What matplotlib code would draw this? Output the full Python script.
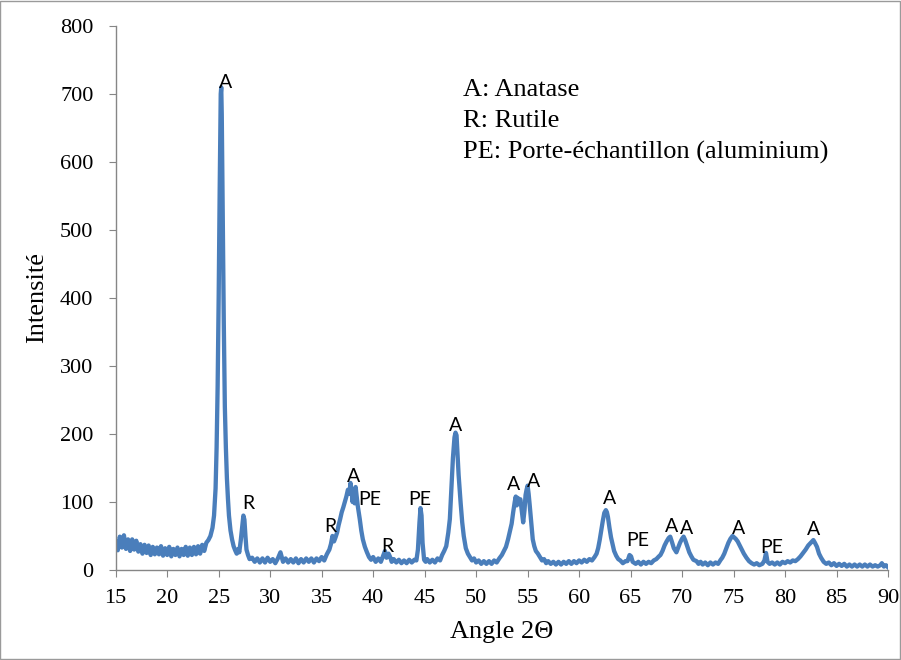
import matplotlib
matplotlib.use("Agg")
import matplotlib.pyplot as plt
from matplotlib.patches import Rectangle

# XRD scan (angle 2-theta, intensity)
angle_bg1 = [15.0, 15.2, 15.4, 15.6, 15.8, 16.0, 16.2, 16.4, 16.6, 16.8,
             17.0, 17.2, 17.4, 17.6, 17.8, 18.0, 18.2, 18.4, 18.6, 18.8,
             19.0, 19.2, 19.4, 19.6, 19.8, 20.0, 20.2, 20.4, 20.6, 20.8,
             21.0, 21.2, 21.4, 21.6, 21.8, 22.0, 22.2, 22.4, 22.6, 22.8,
             23.0, 23.2, 23.4, 23.6, 23.8]
inten_bg1 = [42, 29, 49, 33, 51, 31, 45, 28, 45, 30,
             43, 27, 38, 24, 37, 25, 36, 22, 34, 23,
             33, 23, 35, 21, 32, 22, 34, 20, 31, 22,
             33, 20, 31, 22, 34, 21, 33, 22, 34, 23,
             35, 24, 37, 28, 40]

angle_pk25 = [24.0, 24.2, 24.4, 24.55, 24.7, 24.8, 24.9, 25.0, 25.1, 25.2,
              25.25, 25.3, 25.4, 25.5, 25.6, 25.7, 25.8, 25.9, 26.0, 26.15,
              26.3, 26.45, 26.6, 26.75, 26.9, 27.0, 27.15, 27.3, 27.4, 27.5,
              27.6, 27.7, 27.85, 28.0]
inten_pk25 = [44, 50, 62, 80, 120, 180, 270, 400, 560, 700,
              710, 670, 520, 360, 240, 180, 135, 105, 80, 58,
              45, 35, 29, 24, 31, 26, 44, 66, 80, 74,
              50, 30, 22, 16]

angle_bg2 = [28.25, 28.5, 28.75, 29.0, 29.25, 29.5, 29.75, 30.0, 30.25, 30.5,
             30.75, 31.0, 31.25, 31.5, 31.75, 32.0, 32.25, 32.5, 32.75, 33.0,
             33.25, 33.5, 33.75, 34.0, 34.25, 34.5, 34.75, 35.0, 35.25, 35.5,
             35.75]
inten_bg2 = [18, 12, 17, 11, 17, 11, 18, 12, 16, 10,
             17, 26, 12, 17, 11, 16, 11, 17, 10, 16,
             11, 17, 12, 17, 11, 17, 13, 19, 14, 23,
             30]

angle_pk38 = [35.9, 36.05, 36.2, 36.35, 36.5, 36.65, 36.8, 36.95, 37.1, 37.25,
              37.4, 37.55, 37.7, 37.8, 37.9, 38.0, 38.1, 38.2, 38.3, 38.4,
              38.5, 38.6, 38.7, 38.85, 39.0, 39.2, 39.4, 39.6, 39.8, 40.0,
              40.25, 40.5, 40.75, 41.0, 41.15, 41.3, 41.5, 41.65, 41.8, 42.0,
              42.25, 42.5, 42.75, 43.0, 43.25, 43.5, 43.75, 44.0, 44.2, 44.35,
              44.5, 44.6, 44.7, 44.8, 44.95, 45.1, 45.25, 45.5, 45.75, 46.0,
              46.25, 46.5]
inten_pk38 = [38, 50, 42, 48, 55, 66, 75, 85, 92, 100,
              108, 118, 112, 128, 118, 100, 112, 98, 122, 108,
              95, 85, 75, 58, 45, 34, 26, 19, 15, 19,
              12, 17, 12, 22, 28, 18, 24, 19, 12, 16,
              11, 15, 10, 14, 10, 15, 11, 15, 14, 30,
              70, 91, 80, 40, 15, 12, 16, 11, 15, 11,
              17, 14]

angle_pk48 = [46.7, 46.9, 47.1, 47.3, 47.45, 47.6, 47.75, 47.9, 48.0, 48.1,
              48.2, 48.3, 48.5, 48.65, 48.8, 49.0, 49.2, 49.4, 49.6, 49.8,
              50.0, 50.25, 50.5, 50.75, 51.0, 51.25, 51.5, 51.75, 52.0, 52.25]
inten_pk48 = [22, 28, 35, 55, 75, 120, 165, 195, 202, 198,
              170, 140, 98, 70, 50, 32, 24, 19, 14, 17,
              11, 14, 9, 13, 9, 13, 9, 14, 11, 17]

angle_pk55 = [52.5, 52.7, 52.9, 53.1, 53.3, 53.45, 53.6, 53.75, 53.85, 53.95,
              54.05, 54.15, 54.3, 54.45, 54.57, 54.7, 54.8, 54.9, 55.0, 55.1,
              55.2, 55.35, 55.5, 55.65, 55.8, 56.0, 56.2, 56.4, 56.6, 56.8,
              57.0, 57.25, 57.5, 57.75, 58.0, 58.25, 58.5, 58.75, 59.0, 59.25,
              59.5, 59.75, 60.0, 60.25, 60.5, 60.75, 61.0, 61.25, 61.5]
inten_pk55 = [22, 28, 34, 45, 58, 68, 85, 100, 108, 95,
              106, 100, 104, 85, 70, 88, 110, 118, 124, 112,
              96, 70, 45, 35, 28, 24, 19, 14, 16, 10,
              13, 9, 12, 8, 12, 8, 12, 9, 13, 9,
              13, 10, 14, 11, 15, 12, 16, 14, 19]

angle_pk63 = [61.7, 61.85, 62.0, 62.15, 62.3, 62.45, 62.6, 62.7, 62.8, 62.95,
              63.1, 63.25, 63.4, 63.6, 63.8, 64.0, 64.25, 64.5, 64.7, 64.9,
              65.05, 65.2, 65.5, 65.75, 66.0, 66.25, 66.5, 66.75, 67.0, 67.25,
              67.5, 67.75]
inten_pk63 = [24, 32, 44, 58, 72, 84, 88, 85, 78, 62,
              48, 38, 28, 21, 16, 14, 10, 13, 13, 22,
              20, 12, 9, 12, 8, 12, 9, 12, 10, 14,
              16, 20]

angle_pk69 = [67.9, 68.1, 68.3, 68.5, 68.7, 68.85, 69.0, 69.2, 69.45, 69.6,
              69.8, 70.0, 70.15, 70.3, 70.5, 70.7, 70.9, 71.1, 71.4, 71.6,
              71.8, 72.0, 72.25, 72.5, 72.75, 73.0, 73.25, 73.5, 73.75]
inten_pk69 = [22, 28, 36, 42, 47, 49, 42, 32, 26, 32,
              40, 46, 49, 44, 35, 26, 20, 15, 13, 9,
              12, 8, 11, 7, 11, 8, 11, 9, 15]

angle_pk75 = [73.9, 74.1, 74.3, 74.5, 74.7, 74.9, 75.05, 75.2, 75.4, 75.6,
              75.8, 76.0, 76.25, 76.5, 76.75, 77.0, 77.25, 77.5, 77.8, 78.0,
              78.15, 78.3, 78.5, 78.75, 79.0, 79.25, 79.5, 79.75, 80.0, 80.25,
              80.5, 80.75, 81.0, 81.25]
inten_pk75 = [18, 24, 32, 40, 46, 50, 48, 46, 42, 36,
              30, 24, 18, 13, 10, 8, 10, 7, 9, 14,
              25, 12, 9, 11, 8, 11, 8, 12, 10, 13,
              11, 14, 13, 16]

angle_pk83 = [81.5, 81.75, 82.0, 82.25, 82.5, 82.75, 82.9, 83.1, 83.3, 83.5,
              83.75, 84.0, 84.25, 84.5, 84.75, 85.0, 85.25, 85.5, 85.75, 86.0,
              86.25, 86.5, 86.75, 87.0, 87.25, 87.5, 87.75, 88.0, 88.25, 88.5,
              88.75, 89.0, 89.25, 89.4, 89.6, 89.8, 90.0]
inten_pk83 = [20, 25, 30, 36, 40, 44, 40, 34, 24, 18,
              12, 9, 11, 7, 10, 6, 9, 6, 9, 5,
              8, 5, 8, 5, 8, 5, 8, 5, 8, 5,
              7, 5, 7, 10, 5, 7, 4]

# peak labels: (text, angle, intensity)
peak_labels = [("A", 25.71, 717), ("R", 27.87, 98), ("R", 35.87, 64),
               ("A", 38.14, 137), ("PE", 39.69, 103), ("R", 41.37, 34),
               ("PE", 44.54, 103), ("A", 48.01, 213), ("A", 53.67, 125),
               ("A", 55.62, 130), ("A", 62.99, 105), ("PE", 65.74, 44),
               ("A", 68.98, 64), ("A", 70.44, 61), ("A", 75.45, 61),
               ("PE", 78.69, 33), ("A", 82.73, 59)]

legend_lines = ["A: Anatase", "R: Rutile", "PE: Porte-échantillon (aluminium)"]

xticks = list(range(15, 91, 5))
yticks = list(range(0, 801, 100))

angle = (angle_bg1 + angle_pk25 + angle_bg2 + angle_pk38 + angle_pk48 +
         angle_pk55 + angle_pk63 + angle_pk69 + angle_pk75 + angle_pk83)
inten = (inten_bg1 + inten_pk25 + inten_bg2 + inten_pk38 + inten_pk48 +
         inten_pk55 + inten_pk63 + inten_pk69 + inten_pk75 + inten_pk83)

serif = "Liberation Serif"
fig = plt.figure(figsize=(9.01, 6.6), dpi=100)
ax = fig.add_axes([0.1284, 0.1364, 0.8572, 0.8242])

ax.plot(angle, inten, color="#4a7ebb", lw=3.1)

ax.set_xlim(15, 90)
ax.set_ylim(0, 800)
ax.set_xticks(xticks)
ax.set_yticks(yticks)
ax.set_xticklabels([str(t) for t in xticks], family=serif, fontsize=16)
ax.set_yticklabels([str(t) for t in yticks], family=serif, fontsize=16)
for s in ["top", "right"]:
    ax.spines[s].set_visible(False)
for s in ["left", "bottom"]:
    ax.spines[s].set_color("#868686")
    ax.spines[s].set_linewidth(1.0)
ax.tick_params(axis="x", direction="out", length=5, color="#868686", pad=9)
ax.tick_params(axis="y", direction="out", length=5, color="#868686", pad=11)

ax.set_xlabel("Angle 2Θ", family=serif, fontsize=19)
ax.set_ylabel("Intensité", family=serif, fontsize=19)
ax.xaxis.set_label_coords(0.5, -0.094)
ax.yaxis.set_label_coords(-0.088, 0.5)

for txt, x, y in peak_labels:
    ax.text(x, y, txt, ha="center", va="center", family="Lato", fontsize=14)

for i, line in enumerate(legend_lines):
    fig.text(463 / 901, 1 - (95.7 + i * 31.2) / 660, line, family=serif,
             fontsize=19, ha="left", va="baseline")

fig.patches.append(Rectangle((0.0005, 0.0008), 0.998, 0.9975, transform=fig.transFigure,
                             fill=False, edgecolor="#9a9a9a", lw=1.0))

fig.savefig("out.png", dpi=100)
